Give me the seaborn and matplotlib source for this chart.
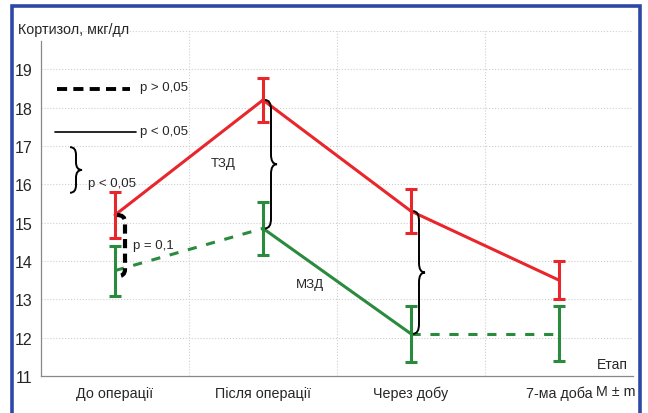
import numpy as np
import pandas as pd
import matplotlib
matplotlib.use("Agg")
import matplotlib.pyplot as plt
from matplotlib.path import Path
from matplotlib.patches import PathPatch, Rectangle
import seaborn as sns

# ---- data ----
stages = ["До операції", "Після операції", "Через добу", "7-ма доба"]
tzd_mean = [15.2, 18.2, 15.3, 13.5]
tzd_err = [0.6, 0.58, 0.57, 0.5]
mzd_mean = [13.75, 14.85, 12.1, 12.1]
mzd_err = [0.65, 0.7, 0.73, 0.72]
# segment significance (solid = p<0.05, dashed = p>0.05)
tzd_sig = [True, True, True]
mzd_sig = [False, True, False]

RED = "#E8262B"
GREEN = "#2A8A3E"

sns.set_theme(style="white")
plt.rcParams["font.family"] = ["Liberation Sans", "DejaVu Sans"]

fig = plt.figure(figsize=(6.48, 4.14), dpi=100)
ax = fig.add_axes([41/648, 1-377/414, (633-41)/648, (377-32)/414])

x = np.arange(len(stages))

def draw_series(mean, err, sig, color):
    for i in range(len(mean) - 1):
        seg = pd.DataFrame({"x": x[i:i+2], "y": mean[i:i+2]})
        ls = "-" if sig[i] else (0, (3, 3.2))
        sns.lineplot(data=seg, x="x", y="y", ax=ax, color=color, lw=2.2,
                     linestyle=ls, sort=False)
    ax.errorbar(x, mean, yerr=err, fmt="none", ecolor=color, elinewidth=2.2,
                capsize=4, capthick=2.2, zorder=3)

draw_series(tzd_mean, tzd_err, tzd_sig, RED)
draw_series(mzd_mean, mzd_err, mzd_sig, GREEN)

ax.set_xlim(-0.5, 3.5)
ax.set_ylim(11, 20)
ax.set_yticks(range(11, 20))
ax.set_xticks(x)
ax.set_xticklabels(stages, fontsize=10.3)
ax.set_xticks(np.arange(0.5, 4.0, 1.0), minor=True)
ax.tick_params(axis="x", which="major", length=0, pad=7)
ax.tick_params(axis="x", which="minor", length=4, color="#888888", width=0.8)
ax.tick_params(axis="y", which="major", length=3, color="#888888", width=0.8,
               labelsize=11.5, pad=3)
ax.set_xlabel("")
ax.set_ylabel("")

# grid
for yv in range(12, 21):
    ax.axhline(yv, color="#cfcfcf", lw=0.8, ls=":", zorder=0)
for xv in np.arange(0.5, 4.0, 1.0):
    ax.axvline(xv, color="#cfcfcf", lw=0.8, ls=":", zorder=0)

for s in ["top", "right"]:
    ax.spines[s].set_visible(False)
for s in ["left", "bottom"]:
    ax.spines[s].set_color("#888888")
    ax.spines[s].set_linewidth(0.9)
ax.spines["left"].set_bounds(11, 19.75)

# ---- braces ----
def brace(x0, yt, yb, w, r, **kw):
    ym = (yt + yb) / 2
    xs = x0 + w / 2
    verts = [(x0, yt), (xs, yt), (xs, yt - r), (xs, ym + r), (xs, ym), (x0 + w, ym),
             (xs, ym), (xs, ym - r), (xs, yb + r), (xs, yb), (x0, yb)]
    codes = [Path.MOVETO, Path.CURVE3, Path.CURVE3, Path.LINETO, Path.CURVE3, Path.CURVE3,
             Path.CURVE3, Path.CURVE3, Path.LINETO, Path.CURVE3, Path.CURVE3]
    ax.add_patch(PathPatch(Path(verts, codes), fill=False, **kw))

px = 1 / 148.0
brace(1 + 2*px, tzd_mean[1], mzd_mean[1], 12*px, 0.25, lw=1.4, ec="black", zorder=4)
brace(2 + 2*px, tzd_mean[2], mzd_mean[2], 12*px, 0.25, lw=1.4, ec="black", zorder=4)
brace(-0.304, 16.97, 15.78, 12*px, 0.2, lw=1.4, ec="black", zorder=4)

# dashed bracket at stage 0
yt, yb = tzd_mean[0], mzd_mean[0] - 0.15
w, r, x0 = 8*px, 0.18, 2*px
verts = [(x0, yt), (x0 + w, yt), (x0 + w, yt - r), (x0 + w, yb + r), (x0 + w, yb), (x0, yb)]
codes = [Path.MOVETO, Path.CURVE3, Path.CURVE3, Path.LINETO, Path.CURVE3, Path.CURVE3]
ax.add_patch(PathPatch(Path(verts, codes), fill=False, lw=3, ec="black",
                       ls=(0, (2.2, 1.3)), zorder=4))

# legend-like annotations
ax.plot([-0.39, 0.10], [18.48, 18.48], color="black", lw=2.8, ls=(0, (2.6, 1.6)))
ax.plot([-0.405, 0.142], [17.36, 17.36], color="black", lw=1.2)
ax.text(0.17, 18.55, "p > 0,05", fontsize=9.5, va="center", ha="left")
ax.text(0.17, 17.4, "p < 0,05", fontsize=9.5, va="center", ha="left")
ax.text(-0.18, 16.04, "p < 0,05", fontsize=9.5, va="center", ha="left")
ax.text(0.12, 14.43, "p = 0,1", fontsize=9.5, va="center", ha="left")
ax.text(0.73, 16.56, "ТЗД", fontsize=9.5, va="center", ha="center")
ax.text(1.32, 13.39, "МЗД", fontsize=9.5, va="center", ha="center")
ax.text(3.466, 11.31, "Етап", fontsize=10, va="center", ha="right")

fig.text(18/648, 1 - 30/414, "Кортизол, мкг/дл", fontsize=10.3, va="center", ha="left")
fig.text(636/648, 1 - 392/414, "M ± m", fontsize=10.3, va="center", ha="right")

# blue frame
fig.patches.append(Rectangle((12/648, -0.05), (640-12)/648, 1 - 7/414 + 0.05,
                             transform=fig.transFigure, fill=False,
                             ec="#2E48A6", lw=2.6, zorder=10))

fig.savefig("out.png", dpi=100, facecolor="white")
